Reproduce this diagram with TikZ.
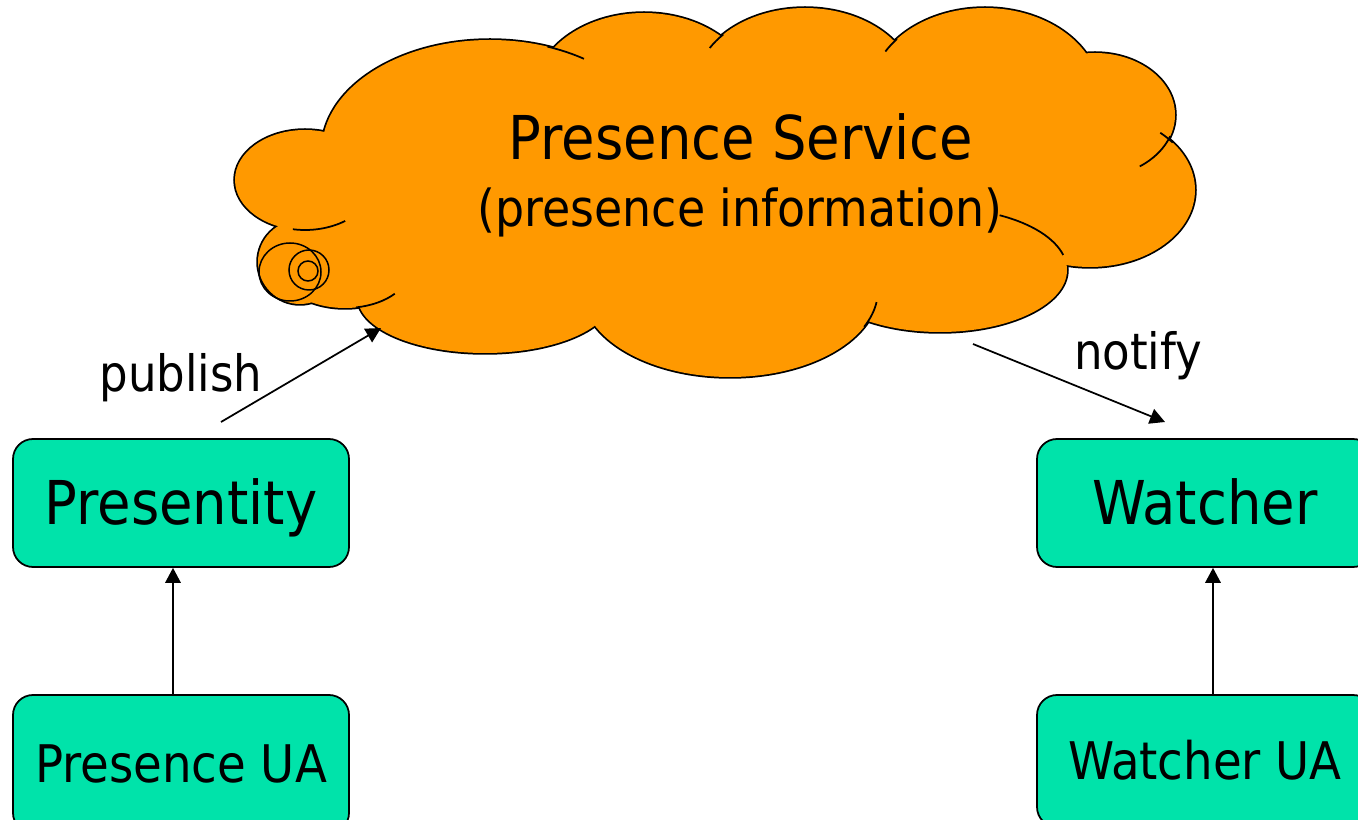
\documentclass[tikz,border=0pt]{standalone}
\usepackage{fontspec}
\setmainfont{DejaVu Sans Condensed}
\usetikzlibrary{arrows.meta}
\definecolor{CloudOrange}{HTML}{FF9900}
\definecolor{BoxGreen}{HTML}{00E3AA}

% lobes of the cloud: centre x / centre y / x radius / y radius
\newcommand{\cloudlobes}{305/180/70/50, 490/150/168/110, 644/95/110/82,
    805/88/110/80, 985/95/115/87, 1095/115/80/62, 1090/190/105/77,
    940/270/127/62, 730/290/148/87, 485/298/127/55, 300/262/42/42,
    345/268/65/40}
% short strokes inside the cloud: centre / radii / start angle / end angle
\newcommand{\cloudticks}{490/150/168/110/-70/-56, 1095/115/80/62/20/56,
    940/270/127/62/-62/-14, 730/290/148/87/8/25, 345/268/65/40/40/80,
    805/88/110/80/-150/-138, 985/95/115/87/-150/-140, 1090/190/105/77/-48/-38,
    305/180/70/50/55/100}

\begin{document}
\begin{tikzpicture}
    [x=0.2mm, y=-0.2mm, line width=0.35mm,
     entity/.style={draw, fill=BoxGreen, rounded corners=4mm,
        minimum width=67.2mm, minimum height=25.6mm, inner sep=0pt,
        text height=25pt, text depth=0pt, font=\fontsize{34.4}{40}\selectfont},
     agent/.style={entity, text height=21.5pt, font=\fontsize{29.5}{35}\selectfont},
     msgtext/.style={anchor=base, inner sep=0pt, font=\fontsize{28.5}{34}\selectfont},
     flow/.style={line width=0.35mm, -{Triangle[length=3mm,width=3.1mm]}}]

    \useasboundingbox (0,0) rectangle (1358,820);

    % cloud: outlines first, fill on top
    \foreach \cx/\cy/\rx/\ry in \cloudlobes
        \draw[line width=0.7mm] (\cx,\cy) ellipse [x radius=\rx, y radius=\ry];
    \foreach \cx/\cy/\rx/\ry in \cloudlobes
        \fill[CloudOrange] (\cx,\cy) ellipse [x radius=\rx, y radius=\ry];
    \fill[CloudOrange] (720,190) ellipse [x radius=360, y radius=100];
    \fill[CloudOrange] (430,230) ellipse [x radius=110, y radius=60];
    \foreach \cx/\cy/\rx/\ry/\s/\e in \cloudticks
        \draw (\cx,\cy) ++({\rx*cos(\s)},{\ry*sin(\s)}) arc [start angle=\s, end angle=\e, x radius=\rx, y radius=\ry];
    % the little curl
    \draw[line width=0.3mm] (309,270) circle [radius=20];
    \draw[line width=0.3mm] (308,271) circle [radius=10];
    \draw[line width=0.3mm] (290,272) ellipse [x radius=31, y radius=29];

    \node[anchor=base, inner sep=0pt, font=\fontsize{34.4}{40}\selectfont] (service) at (741,160) {Presence Service};
    \node[anchor=base, inner sep=0pt, font=\fontsize{29}{34}\selectfont] (info) at (740,227) {(presence information)};

    % boxes
    \node[entity] (presentity) at (181,503) {Presentity};
    \node[agent, minimum height=27.6mm] (pua) at (181,764) {Presence UA};
    \node[entity] (watcher) at (1205,503) {Watcher};
    \node[agent, minimum height=26.4mm] (wua) at (1205,761) {Watcher UA};

    \draw[flow] ([xshift=-1.6mm]pua.north) -- ([xshift=-1.6mm]presentity.south);
    \draw[flow] ([xshift=1.6mm]wua.north) -- ([xshift=1.6mm]watcher.south);

    % messages
    \coordinate (pubtail) at (221,422);
    \coordinate (pubhead) at (381,328);
    \coordinate (nottail) at (973,344);
    \coordinate (nothead) at (1165,422);
    \draw[flow] (pubtail) -- (pubhead);
    \draw[flow] (nottail) -- (nothead);
    \node[msgtext] (publish) at (181,392) {publish};
    \node[msgtext] (notify) at (1138,370) {notify};
\end{tikzpicture}
\end{document}
